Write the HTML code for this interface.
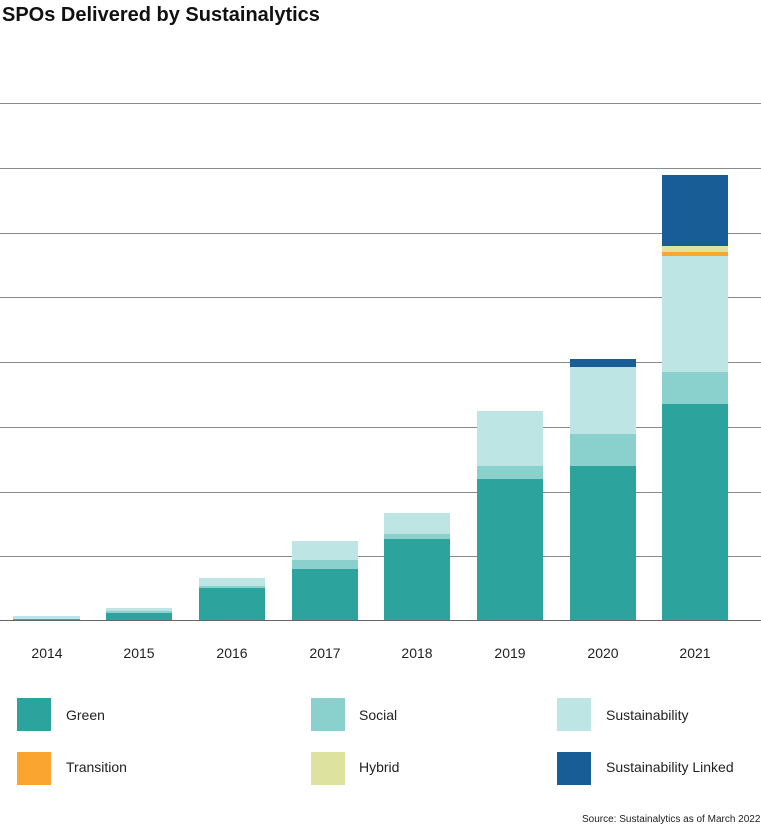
<!DOCTYPE html>
<html><head><style>
body{margin:0;width:761px;height:829px;background:#fff;font-family:"Liberation Sans",sans-serif;position:relative;overflow:hidden}
.t{position:absolute;left:2px;top:4px;font-size:20px;font-weight:bold;color:#111}
.g{position:absolute;left:0;width:761px;height:1px;background:#8a8a8a}
.b{position:absolute}
.x{position:absolute;top:645px;font-size:14px;color:#222;width:66px;text-align:center}
.s{position:absolute;width:34px;height:33px}
.l{position:absolute;font-size:14px;color:#222}
</style></head><body>
<div class="t">SPOs Delivered by Sustainalytics</div>
<div class="g" style="top:103px"></div><div class="g" style="top:168px"></div><div class="g" style="top:233px"></div><div class="g" style="top:297px"></div><div class="g" style="top:362px"></div><div class="g" style="top:427px"></div><div class="g" style="top:492px"></div><div class="g" style="top:556px"></div>
<!-- 2014 -->
<div class="b" style="left:13px;width:67px;top:616px;height:4px;background:#bce5e4"></div>
<div class="b" style="left:13px;width:67px;top:619px;height:1px;background:#c08030"></div>
<!-- 2015 -->
<div class="b" style="left:106px;width:66px;top:608px;height:3px;background:#bce5e4"></div>
<div class="b" style="left:106px;width:66px;top:611px;height:2px;background:#8ad0cd"></div>
<div class="b" style="left:106px;width:66px;top:613px;height:7px;background:#2ca39c"></div>
<!-- 2016 -->
<div class="b" style="left:199px;width:66px;top:578px;height:8px;background:#bce5e4"></div>
<div class="b" style="left:199px;width:66px;top:586px;height:2px;background:#8ad0cd"></div>
<div class="b" style="left:199px;width:66px;top:588px;height:32px;background:#2ca39c"></div>
<!-- 2017 -->
<div class="b" style="left:292px;width:66px;top:541px;height:19px;background:#bce5e4"></div>
<div class="b" style="left:292px;width:66px;top:560px;height:9px;background:#8ad0cd"></div>
<div class="b" style="left:292px;width:66px;top:569px;height:51px;background:#2ca39c"></div>
<!-- 2018 -->
<div class="b" style="left:384px;width:66px;top:513px;height:21px;background:#bce5e4"></div>
<div class="b" style="left:384px;width:66px;top:534px;height:5px;background:#8ad0cd"></div>
<div class="b" style="left:384px;width:66px;top:539px;height:81px;background:#2ca39c"></div>
<!-- 2019 -->
<div class="b" style="left:477px;width:66px;top:411px;height:55px;background:#bce5e4"></div>
<div class="b" style="left:477px;width:66px;top:466px;height:13px;background:#8ad0cd"></div>
<div class="b" style="left:477px;width:66px;top:479px;height:141px;background:#2ca39c"></div>
<!-- 2020 -->
<div class="b" style="left:570px;width:66px;top:359px;height:8px;background:#185d96"></div>
<div class="b" style="left:570px;width:66px;top:367px;height:67px;background:#bce5e4"></div>
<div class="b" style="left:570px;width:66px;top:434px;height:32px;background:#8ad0cd"></div>
<div class="b" style="left:570px;width:66px;top:466px;height:154px;background:#2ca39c"></div>
<!-- 2021 -->
<div class="b" style="left:662px;width:66px;top:175px;height:71px;background:#185d96"></div>
<div class="b" style="left:662px;width:66px;top:246px;height:6px;background:#dde29e"></div>
<div class="b" style="left:662px;width:66px;top:252px;height:4px;background:#f9a52f"></div>
<div class="b" style="left:662px;width:66px;top:256px;height:116px;background:#bce5e4"></div>
<div class="b" style="left:662px;width:66px;top:372px;height:32px;background:#8ad0cd"></div>
<div class="b" style="left:662px;width:66px;top:404px;height:216px;background:#2ca39c"></div>
<div class="g" style="top:620px;background:#666"></div>
<div class="x" style="left:14px">2014</div><div class="x" style="left:106px">2015</div><div class="x" style="left:199px">2016</div><div class="x" style="left:292px">2017</div><div class="x" style="left:384px">2018</div><div class="x" style="left:477px">2019</div><div class="x" style="left:570px">2020</div><div class="x" style="left:662px">2021</div>
<div class="s" style="left:17px;top:698px;background:#2ca39c"></div><div class="l" style="left:66px;top:707px">Green</div>
<div class="s" style="left:311px;top:698px;background:#8ad0cd"></div><div class="l" style="left:359px;top:707px">Social</div>
<div class="s" style="left:557px;top:698px;background:#bce5e4"></div><div class="l" style="left:606px;top:707px">Sustainability</div>
<div class="s" style="left:17px;top:752px;background:#f9a52f"></div><div class="l" style="left:66px;top:759px">Transition</div>
<div class="s" style="left:311px;top:752px;background:#dde29e"></div><div class="l" style="left:359px;top:759px">Hybrid</div>
<div class="s" style="left:557px;top:752px;background:#185d96"></div><div class="l" style="left:606px;top:759px">Sustainability Linked</div>
<div class="l" style="left:582px;top:814px;font-size:10px">Source: Sustainalytics as of March 2022</div>
</body></html>
